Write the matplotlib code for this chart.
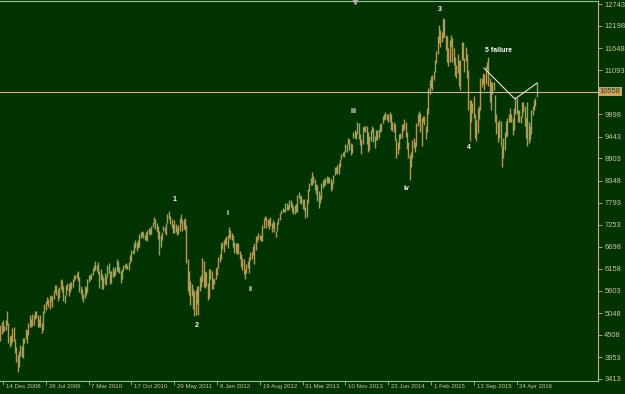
import pandas as pd
import matplotlib
matplotlib.use("Agg")
import matplotlib.pyplot as plt
from matplotlib.transforms import ScaledTranslation

# weekly bars, first bar week of 30 Nov 2008
highs = [
    4760, 4830, 4880, 4720, 4870, 5111, 4800, 4490, 4500, 4690,
    4710, 4400, 4210, 4000, 4100, 4250, 4230, 4440, 4440, 4650,
    4640, 4800, 5000, 4900, 5030, 5000, 5100, 5110, 5000, 4900,
    5000, 4800, 5100, 5290, 5360, 5450, 5400, 5480, 5500, 5470,
    5630, 5740, 5760, 5660, 5700, 5900, 5880, 5720, 5500, 5750,
    5800, 5780, 5820, 5830, 5900, 6000, 6010, 6050, 6090, 5950,
    5720, 5650, 5530, 5720, 5690, 5890, 5990, 6010, 6040, 6170,
    6250, 6340, 6260, 6330, 6100, 6150, 6020, 5950, 6060, 5980,
    6240, 6300, 6110, 6090, 6200, 6120, 6190, 6390, 6360, 6200,
    6100, 6140, 6250, 6280, 6300, 6250, 6330, 6500, 6630, 6620,
    6790, 6860, 6810, 6870, 7010, 7060, 7090, 7060, 7000, 7080,
    7120, 7160, 7180, 7230, 7320, 7440, 7400, 7300, 7220, 7100,
    7000, 7070, 7230, 7200, 7290, 7530, 7600, 7460, 7400, 7280,
    7360, 7260, 7200, 7250, 7430, 7520, 7380, 7390, 7420, 7250,
    6400, 6110, 5850, 5780, 5650, 5600, 5620, 5730, 5720, 5950,
    6000, 6430, 6350, 6100, 6080, 5800, 6140, 6150, 6100, 5900,
    5930, 6170, 6200, 6450, 6520, 6790, 6810, 6860, 6920, 6980,
    6990, 7190, 7120, 7040, 7000, 6830, 6800, 6800, 6790, 6600,
    6520, 6420, 6400, 6140, 6270, 6350, 6450, 6580, 6580, 6720,
    6790, 6980, 6980, 7040, 7000, 7000, 7240, 7420, 7480, 7440,
    7400, 7390, 7440, 7300, 7380, 7330, 7100, 7310, 7430, 7540,
    7610, 7680, 7650, 7790, 7780, 7750, 7870, 7870, 7780, 7720,
    7750, 7760, 7990, 8060, 8000, 7960, 7880, 7880, 7700, 7900,
    8140, 8290, 8410, 8560, 8460, 8380, 8260, 8240, 8080, 8000,
    8300, 8360, 8390, 8420, 8470, 8440, 8450, 8400, 8320, 8500,
    8700, 8700, 8740, 8780, 8890, 9010, 9070, 9090, 9260, 9260,
    9420, 9380, 9290, 9270, 9560, 9620, 9550, 9800, 9790, 9500,
    9380, 9680, 9720, 9720, 9700, 9550, 9450, 9620, 9720, 9650,
    9450, 9600, 9620, 9640, 9760, 9780, 9950, 10000, 10050, 10000,
    10000, 10050, 10000, 9800, 9810, 9760, 9390, 9300, 9500, 9540,
    9750, 9770, 9880, 9810, 9550, 9300, 8990, 9060, 9350, 9400,
    9300, 9780, 10000, 10090, 10020, 9900, 9960, 9950, 9700, 10150,
    10650, 10850, 10960, 10970, 11080, 11350, 11580, 11950, 12220, 12100,
    12050, 12390, 12380, 11980, 11940, 11650, 11850, 11980, 11900, 11650,
    11420, 11230, 11500, 11350, 11350, 11800, 11800, 11400, 11670, 11500,
    11100, 10350, 10360, 10270, 10450, 10000, 9850, 10150, 10200, 10900,
    10900, 11030, 11000, 11200, 11310, 11430, 10900, 10800, 10800, 10800,
    10480, 10000, 9800, 9850, 9830, 9200, 9400, 9550, 9830, 9900,
    10000, 10150, 10000, 9900, 10150, 10420, 10400, 10100, 10100, 9950,
    10300, 10300, 10200, 9900, 10300, 9800, 9700, 10100, 10200, 10350,
    10400, 10800,
]
lows = [
    4370, 4530, 4580, 4600, 4620, 4760, 4320, 4200, 4250, 4330,
    4360, 4050, 3840, 3588, 3700, 3990, 3960, 3940, 4300, 4400,
    4300, 4500, 4700, 4700, 4720, 4750, 4900, 4940, 4710, 4710,
    4700, 4570, 4620, 5060, 5140, 5270, 5210, 5150, 5350, 5200,
    5400, 5580, 5500, 5360, 5430, 5650, 5580, 5360, 5300, 5500,
    5620, 5470, 5590, 5660, 5700, 5850, 5900, 5920, 5850, 5590,
    5530, 5400, 5330, 5440, 5500, 5580, 5830, 5880, 5900, 6000,
    6100, 6130, 6110, 6030, 5680, 5880, 5640, 5650, 5780, 5750,
    5950, 6050, 5770, 5800, 5950, 5940, 6010, 6100, 6070, 6040,
    5800, 5900, 6100, 6170, 6140, 6150, 6130, 6290, 6350, 6530,
    6560, 6670, 6600, 6680, 6690, 6920, 6980, 6920, 6880, 6860,
    6840, 7030, 7000, 7010, 7200, 7300, 7150, 7080, 6900, 6510,
    6700, 6880, 7100, 7040, 7000, 7300, 7390, 7280, 7180, 7040,
    7050, 7080, 7000, 7010, 7100, 7300, 7100, 7140, 7120, 6300,
    5600, 5500, 5250, 5470, 5150, 4970, 5000, 5280, 5000, 5600,
    5700, 5830, 5690, 5670, 5720, 5370, 5420, 5900, 5650, 5660,
    5780, 5900, 6000, 6170, 6330, 6390, 6640, 6580, 6780, 6750,
    6680, 6930, 6900, 6870, 6700, 6560, 6560, 6520, 6530, 6400,
    6200, 6130, 6030, 5910, 6060, 6180, 6050, 6380, 6410, 6500,
    6270, 6620, 6820, 6890, 6880, 6850, 6850, 7170, 7380, 7180,
    7230, 7150, 7220, 7060, 7180, 7070, 6950, 7100, 7280, 7370,
    7520, 7560, 7580, 7560, 7630, 7610, 7650, 7690, 7560, 7530,
    7530, 7580, 7580, 7910, 7780, 7760, 7650, 7620, 7420, 7450,
    7800, 8100, 8230, 8230, 8300, 8110, 8020, 7840, 7660, 7800,
    7900, 8170, 8220, 8240, 8280, 8280, 8300, 8100, 8130, 8300,
    8500, 8540, 8520, 8520, 8700, 8880, 8950, 8930, 9050, 9050,
    9250, 9110, 8990, 9040, 9400, 9400, 9380, 9520, 9380, 9240,
    9000, 9260, 9580, 9550, 9270, 9070, 9120, 9330, 9560, 9320,
    9170, 9370, 9350, 9420, 9550, 9580, 9790, 9850, 9880, 9850,
    9800, 9800, 9600, 9580, 9550, 9370, 8900, 9000, 9130, 9390,
    9400, 9580, 9630, 9430, 9130, 8900, 8355, 8700, 8900, 9160,
    9060, 9200, 9700, 9800, 9550, 9200, 9800, 9730, 9380, 9550,
    10000, 10500, 10650, 10600, 10860, 11050, 11270, 11500, 11770, 11670,
    11800, 11900, 11920, 11600, 11310, 11200, 11300, 11700, 11300, 11220,
    10940, 10900, 11030, 10700, 10600, 11350, 11350, 11050, 11330, 10900,
    10100, 9340, 9800, 10030, 9900, 9400, 9340, 9530, 9880, 10100,
    10680, 10750, 10600, 10750, 11100, 10700, 10300, 10100, 10500, 10600,
    9800, 9500, 9300, 9400, 9200, 8700, 8900, 9100, 9430, 9450,
    9800, 9800, 9800, 9480, 9600, 10000, 10000, 9800, 9800, 9780,
    9930, 10050, 9700, 9400, 9200, 9280, 9350, 9500, 9980, 10100,
    10200, 10420,
]
last_price = 10558

price_ticks = [12743, 12198, 11648, 11093, 9998, 9443, 8903, 8348, 7793,
               7253, 6698, 6158, 5603, 5048, 4508, 3953, 3413]
date_ticks = ["14 Dec 2008", "26 Jul 2009", "7 Mar 2010", "17 Oct 2010",
              "29 May 2011", "8 Jan 2012", "19 Aug 2012", "31 Mar 2013",
              "10 Nov 2013", "22 Jun 2014", "1 Feb 2015", "13 Sep 2015",
              "24 Apr 2016"]

# wave labels (bar index, price)
wave_text = ["1", "2", "i", "ii", "iii", "iv", "3", "4", "5 failure"]
wave_x = [130.6, 147.1, 170.2, 186.7, 264.4, 303.3, 328.7, 350.4, 372.8]
wave_y = [7867, 4732, 7543, 5652, 10081, 8165, 12619, 9185, 11598]

# drawn trend lines
line_x = [361.6, 384.8, 401.3]
line_y = [11150, 10380, 10777]

bg = "#003300"
bar_col = "#a89c58"
axis_col = "#b4b49c"
txt_col = "#c8c890"

weeks = pd.date_range("2008-11-30", periods=len(highs), freq="W-SUN")
idx = list(range(len(highs)))
tick_pos = [weeks.get_loc(pd.to_datetime(d, format="%d %b %Y")) for d in date_ticks]

plt.rcParams["font.family"] = ["Liberation Sans", "DejaVu Sans"]

fig = plt.figure(figsize=(6.25, 3.94), dpi=100, facecolor=bg)
ax = fig.add_axes([0, 1 - 381 / 394, 598 / 625, 380 / 394], facecolor=bg)

ax.vlines(idx, lows, highs, color=bar_col, lw=1.0)
ax.axhline(last_price, color="#bcbca4", lw=0.8)
ax.plot(line_x, line_y, color="#e6e6d2", lw=0.8)

for t, x, y in zip(wave_text, wave_x, wave_y):
    ax.text(x, y, t, color="white", fontsize=5, fontweight="bold",
            ha="center", va="center")

ax.set_xlim(-0.24, 446.9)
ax.set_ylim(3363.2, 12818.6)

ax.spines["left"].set_visible(False)
for side in ["right", "bottom", "top"]:
    ax.spines[side].set_color(axis_col)
    ax.spines[side].set_linewidth(0.8)

ax.yaxis.tick_right()
ax.set_yticks(price_ticks)
ax.set_yticklabels([str(p) for p in price_ticks])
ax.set_xticks(tick_pos)
ax.set_xticklabels(date_ticks, fontsize=4.4)
ax.tick_params(axis="both", direction="out", length=3, width=0.6,
               color=axis_col, labelcolor=txt_col)
ax.tick_params(axis="y", pad=1.5, labelsize=5.4)
ax.tick_params(axis="x", pad=-3)
for lab in ax.get_xticklabels():
    lab.set_horizontalalignment("left")
    lab.set_transform(lab.get_transform() + ScaledTranslation(2 / 72, -2.5 / 72, fig.dpi_scale_trans))

ax.text(1.003, last_price, str(last_price), transform=ax.get_yaxis_transform(),
        ha="left", va="center", fontsize=5.4, color="#3a3a2a",
        bbox=dict(boxstyle="square,pad=0.15", fc="#d4a64c", ec="none"))

ax.plot([355 / 598], [1.0], transform=ax.transAxes, marker="v", ms=4,
        color="#a8a8a0", clip_on=False)

fig.savefig("out.png", dpi=100, facecolor=bg)
